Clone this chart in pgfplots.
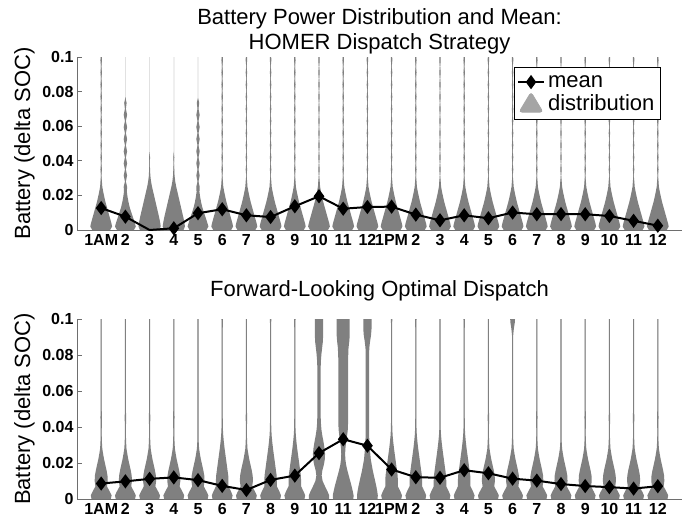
\documentclass[border=0pt]{standalone}
\usepackage{pgfplots}
\pgfplotsset{compat=1.18}
\usepackage{pgfplotstable}
\usepackage{fontspec}
\setmainfont{Liberation Sans}
\definecolor{vgray}{RGB}{128,128,128}
\definecolor{lgray}{RGB}{165,165,165}
\definecolor{axgray}{RGB}{110,110,110}

% half-widths of the violins (x units) at each height y; -0.01 = closed on the centre line
\pgfplotstableread{
y       A      B      C
0       -0.01  -0.01  -0.01
0       0.37   0.35   0.40
0.002   0.45   0.43   0.46
0.004   0.42   0.39   0.44
0.007   0.36   0.32   0.40
0.010   0.30   0.25   0.35
0.013   0.24   0.18   0.30
0.016   0.18   0.13   0.25
0.019   0.13   0.09   0.20
0.022   0.085  0.06   0.15
0.025   0.045  0.07   0.10
0.028   0.03   0.02   0.06
0.0315  0.008  0.07   0.03
0.035   0.03   0.02   0.02
0.0385  0.008  0.07   0.006
0.042   0.03   0.02   0.02
0.0455  0.008  0.07   -0.01
0.049   0.03   0.02   -0.01
0.0525  0.008  0.07   -0.01
0.056   0.03   0.02   -0.01
0.0595  0.008  0.07   -0.01
0.063   0.03   0.02   -0.01
0.0665  0.008  0.07   -0.01
0.07    0.03   0.02   -0.01
0.0735  0.008  0.05   -0.01
0.077   0.03   -0.01  -0.01
0.0805  0.008  -0.01  -0.01
0.084   0.03   -0.01  -0.01
0.0875  0.008  -0.01  -0.01
0.091   0.03   -0.01  -0.01
0.0945  0.008  -0.01  -0.01
0.098   0.03   -0.01  -0.01
0.1     0.025  -0.01  -0.01
0.1     -0.01  -0.01  -0.01
}\toptab

\pgfplotstableread{
y       F      G      P      Q      R      K
0       -0.01  -0.01  -0.01  -0.01  -0.01  -0.01
0       0.40   0.40   0.42   0.42   0.42   0.40
0.002   0.43   0.43   0.42   0.43   0.43   0.43
0.004   0.36   0.37   0.36   0.40   0.41   0.36
0.007   0.24   0.26   0.25   0.35   0.37   0.24
0.010   0.27   0.26   0.15   0.29   0.32   0.27
0.013   0.26   0.25   0.11   0.23   0.27   0.26
0.016   0.22   0.22   0.14   0.17   0.22   0.22
0.019   0.17   0.19   0.20   0.12   0.18   0.17
0.022   0.12   0.16   0.24   0.09   0.14   0.12
0.025   0.08   0.13   0.25   0.08   0.12   0.08
0.028   0.045  0.10   0.23   0.09   0.10   0.045
0.0315  0.03   0.07   0.19   0.12   0.09   0.03
0.035   0.022  0.045  0.14   0.16   0.07   0.022
0.0385  0.022  0.03   0.10   0.19   0.07   0.022
0.042   0.025  0.025  0.08   0.20   0.07   0.022
0.0455  0.03   0.022  0.07   0.20   0.07   0.022
0.049   0.022  0.022  0.07   0.20   0.07   0.022
0.0525  0.022  0.022  0.07   0.20   0.07   0.022
0.056   0.022  0.022  0.07   0.20   0.07   0.022
0.0595  0.022  0.022  0.07   0.20   0.07   0.022
0.063   0.022  0.022  0.07   0.20   0.07   0.022
0.0665  0.022  0.022  0.07   0.20   0.07   0.022
0.07    0.022  0.022  0.07   0.20   0.07   0.022
0.0735  0.022  0.022  0.07   0.20   0.07   0.022
0.077   0.022  0.022  0.08   0.20   0.07   0.022
0.0805  0.022  0.022  0.10   0.21   0.07   0.022
0.084   0.022  0.022  0.13   0.22   0.08   0.022
0.0875  0.022  0.022  0.16   0.25   0.11   0.022
0.091   0.022  0.022  0.17   0.27   0.15   0.025
0.0945  0.022  0.022  0.17   0.27   0.17   0.05
0.098   0.022  0.025  0.17   0.27   0.17   0.09
0.1     0.022  0.03   0.17   0.27   0.17   0.10
0.1     -0.01  -0.01  -0.01  -0.01  -0.01  -0.01
}\bottab

\pgfplotsset{
  vstyle/.style={
    scale only axis, width=605bp,
    xmin=0, xmax=25, ymin=0, ymax=0.1,
    axis lines=left,
    axis line style={-, draw=axgray, line width=0.8bp},
    xtick={1,...,24},
    xticklabels={1AM,2,3,4,5,6,7,8,9,10,11,12,1PM,2,3,4,5,6,7,8,9,10,11,12},
    ytick={0,0.02,0.04,0.06,0.08,0.1},
    yticklabels={0,0.02,0.04,0.06,0.08,0.1},
    tick align=inside, major tick length=5bp,
    xtick style={draw=none},
    ytick style={draw=axgray, line width=0.8bp},
    ticklabel style={font=\fontsize{16bp}{19bp}\selectfont\bfseries},
    xticklabel style={yshift=-1bp},
    ylabel={Battery (delta SOC)},
    every axis y label/.style={at={(axis description cs:-0.087,0.5)}, rotate=90, anchor=center,
      font=\fontsize{22bp}{25bp}\selectfont},
    title style={font=\fontsize{22bp}{25bp}\selectfont, align=center},
    clip marker paths=false,
  },
  meanstyle/.style={black, line width=2bp, mark=diamond*, mark size=5.5bp,
    mark options={solid, fill=black}},
}

\begin{document}
\begin{tikzpicture}
\useasboundingbox (0bp,0bp) rectangle (689bp,-520bp);

% ---------------- top panel ----------------
\begin{axis}[vstyle,
  at={(77bp,-230bp)}, anchor=south west, height=173bp,
  title={Battery Power Distribution and Mean:\\HOMER Dispatch Strategy},
  title style={yshift=-7bp},
  legend cell align=left,
  legend style={at={(axis description cs:0.965,0.942)}, anchor=north east,
    draw=black, line width=0.8bp, fill=white,
    font=\fontsize{22bp}{24bp}\selectfont, inner xsep=3bp, inner ysep=6bp, row sep=1bp,
    nodes={inner xsep=3bp}},
]
\foreach \h/\s in {1/A,2/B,3/C,4/C,5/B,6/A,7/A,8/A,9/A,10/A,11/A,12/A,13/A,14/A,15/A,16/A,17/A,18/A,19/A,20/A,21/A,22/A,23/A,24/A}{
  \addplot[fill=vgray, draw=none, forget plot] table[x expr=\h+\thisrow{\s}, y=y]{\toptab};
  \addplot[fill=vgray, draw=none, forget plot] table[x expr=\h-\thisrow{\s}, y=y]{\toptab};
}
\addplot[meanstyle, mark indices={1,2,4,5,6,7,8,9,10,11,12,13,14,15,16,17,18,19,20,21,22,23,24},
  legend image code/.code={
    \draw[black, line width=2bp] (0bp,0bp) -- (26bp,0bp);
    \fill[black] (13bp,5.5bp) -- (17bp,0bp) -- (13bp,-5.5bp) -- (9bp,0bp) -- cycle;
  }] coordinates {
  (1,0.0127) (2,0.0077) (3,0.0) (4,0.001) (5,0.0097) (6,0.0120)
  (7,0.0085) (8,0.0075) (9,0.0137) (10,0.0195) (11,0.0123) (12,0.0133)
  (13,0.0135) (14,0.0089) (15,0.0056) (16,0.0085) (17,0.0068) (18,0.0101)
  (19,0.0091) (20,0.0092) (21,0.0091) (22,0.0081) (23,0.0053) (24,0.0025)
};
\addlegendentry{mean}
\addlegendimage{legend image code/.code={
    \fill[lgray, rounded corners=3bp] (1bp,-9bp) -- (25bp,-9bp) -- (13bp,11bp) -- cycle;
  }}
\addlegendentry{distribution}
\end{axis}

% ---------------- bottom panel ----------------
\begin{axis}[vstyle,
  at={(77bp,-499bp)}, anchor=south west, height=180bp,
  title={Forward-Looking Optimal Dispatch},
  title style={yshift=8bp},
]
\foreach \h/\s in {1/F,2/F,3/F,4/F,5/F,6/G,7/F,8/G,9/G,10/P,11/Q,12/R,13/G,14/G,15/G,16/G,17/F,18/K,19/F,20/F,21/F,22/F,23/F,24/F}{
  \addplot[fill=vgray, draw=none, forget plot] table[x expr=\h+\thisrow{\s}, y=y]{\bottab};
  \addplot[fill=vgray, draw=none, forget plot] table[x expr=\h-\thisrow{\s}, y=y]{\bottab};
}
\addplot[meanstyle] coordinates {
  (1,0.0086) (2,0.0098) (3,0.0112) (4,0.0120) (5,0.0105) (6,0.0073)
  (7,0.0050) (8,0.0106) (9,0.0130) (10,0.0255) (11,0.0332) (12,0.0296)
  (13,0.0164) (14,0.0121) (15,0.0118) (16,0.0160) (17,0.0143) (18,0.0113)
  (19,0.0102) (20,0.0083) (21,0.0072) (22,0.0066) (23,0.0058) (24,0.0071)
};
\end{axis}
\end{tikzpicture}
\end{document}
